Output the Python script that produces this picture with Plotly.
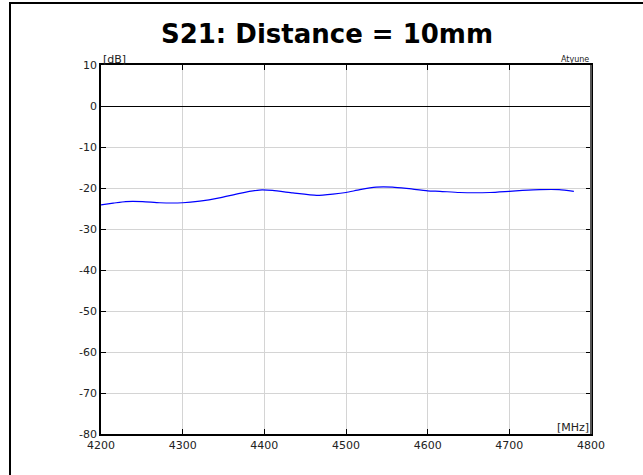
import plotly.graph_objects as go

freq_mhz = [4200, 4215, 4230, 4251, 4272, 4300, 4321, 4345, 4370, 4394, 4410, 4435,
            4464, 4484, 4500, 4517, 4537, 4557, 4574, 4600, 4615, 4639, 4676, 4700,
            4716, 4737, 4761, 4779]
s21_db = [-24.1, -23.7, -23.3, -23.3, -23.6, -23.6, -23.2, -22.4, -21.3, -20.5, -20.6, -21.2,
          -21.8, -21.5, -21.1, -20.4, -19.8, -19.8, -20.1, -20.7, -20.8, -21.1, -21.1, -20.8,
          -20.6, -20.4, -20.4, -20.8]
x_ticks = [4200, 4300, 4400, 4500, 4600, 4700, 4800]
y_ticks = [10, 0, -10, -20, -30, -40, -50, -60, -70, -80]

W, H = 643, 475
L, R, T, B = 101, 52, 65, 41
pw, ph = W - L - R, H - T - B

fig = go.Figure()
fig.add_trace(go.Scatter(x=freq_mhz, y=s21_db, mode="lines",
                         line=dict(color="#0000ff", width=1.2, shape="spline", smoothing=0.6),
                         hoverinfo="skip", showlegend=False))

axis_common = dict(showgrid=True, gridcolor="#d4d4d4", gridwidth=1,
                   showline=True, linecolor="black", linewidth=1.5, mirror="ticks",
                   ticks="inside", ticklen=5, tickcolor="black",
                   tickfont=dict(family="DejaVu Sans", size=11, color="#222222"))

fig.update_xaxes(range=[4200, 4800], tickvals=x_ticks, ticktext=[str(v) for v in x_ticks],
                 zeroline=False, **axis_common)
fig.update_yaxes(range=[-80, 10], tickvals=y_ticks, ticktext=[str(v) for v in y_ticks],
                 zeroline=True, zerolinecolor="black", zerolinewidth=1.2, **axis_common)

fig.update_layout(
    width=W, height=H,
    margin=dict(l=L, r=R, t=T, b=B, pad=0),
    paper_bgcolor="white", plot_bgcolor="white",
    title=dict(text="<b>S21: Distance = 10mm</b>", x=327 / W, xanchor="center",
               y=1 - 34 / H, yanchor="middle",
               font=dict(family="DejaVu Sans", size=26, color="black")),
    annotations=[
        dict(text="[dB]", xref="paper", yref="paper", x=0, y=1, xanchor="left", yanchor="bottom",
             showarrow=False, font=dict(family="DejaVu Sans", size=11, color="#222222"), yshift=-3),
        dict(text="Atyune", xref="paper", yref="paper", x=1, y=1, xanchor="right", yanchor="bottom",
             showarrow=False, font=dict(family="DejaVu Sans", size=8, color="#222222"), yshift=-1),
        dict(text="[MHz]", xref="paper", yref="paper", x=1, y=0, xanchor="right", yanchor="bottom",
             showarrow=False, font=dict(family="DejaVu Sans", size=11, color="#222222"), yshift=-2),
    ],
    shapes=[
        dict(type="rect", xref="paper", yref="paper",
             x0=(10 - L) / pw, x1=(W + 20 - L) / pw,
             y0=-(B + 20) / ph, y1=(H - B - 3) / ph,
             line=dict(color="black", width=2), fillcolor="rgba(0,0,0,0)", layer="above"),
        # right axis drawn grey as in the reference
        dict(type="line", xref="paper", yref="paper", x0=1, x1=1, y0=0, y1=1,
             line=dict(color="#555555", width=2), layer="above"),
    ],
)

fig.write_html("out.html",
               config={"displayModeBar": False},
               post_script="document.body.style.margin='0';document.body.style.padding='0';")
